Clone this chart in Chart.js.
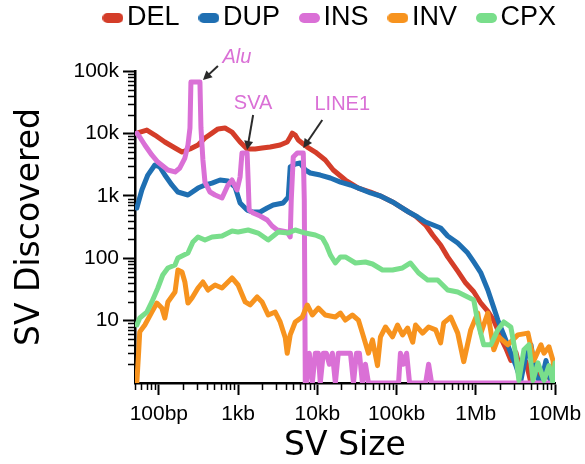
<!DOCTYPE html>
<html lang="en">
<head>
    <meta charset="UTF-8">
    <title>SV Size Distribution</title>
    <script src="https://cdn.jsdelivr.net/npm/chart.js"></script>
    <style>
        html, body { margin: 0; padding: 0; background: #fff; }
        #wrap { width: 585px; height: 464px; }
    </style>
</head>
<body>
    <div id="wrap"><canvas id="svChart" width="585" height="464"></canvas></div>

    <script>
        // series, in legend order
        const seriesNames = ['DEL', 'DUP', 'INS', 'INV', 'CPX'];
        const seriesColors = ['#d43d29', '#1f6fb2', '#da70d6', '#f7931e', '#79de8b'];

        const delSize = [52.7, 70.5, 89, 119, 160, 196, 247, 312, 382, 469, 558, 684, 839, 1060, 1300, 1640, 2010, 2540, 3400, 4170,
            4550, 4830, 5270, 5750, 6650, 7470, 9430, 12600, 15900, 22600, 33000, 46900, 62700, 89000, 130000, 174000, 233000, 286000, 360000, 442000,
            592000, 747000, 943000, 1160000, 1420000, 1690000, 1900000, 2070000, 2400000, 2770000, 3210000, 3710000, 4300000, 4970000, 5750000, 6650000, 7690000, 8900000, 10000000];
        const delCount = [10100, 11300, 9420, 7280, 5830, 5030, 5620, 6510, 8440, 10100, 11800, 12200, 10500, 7280, 5620, 5620, 5830, 6050, 6510, 7280,
            8750, 10100, 9420, 7830, 6760, 6050, 5030, 3750, 2590, 1790, 1330, 1150, 993, 796, 592, 474, 340, 235, 163, 105,
            62, 40, 29, 19, 14, 10, 7.1, 5.3, 3.6, 2.3, 3.1, 1.5, 2.2, 1, 1.7, 1, 1.5, 1.1, 1];

        const dupSize = [52.7, 61, 72.6, 89, 103, 119, 146, 174, 233, 312, 382, 469, 592, 746, 916, 1060, 1300, 1550, 1900, 2330,
            2770, 3710, 4300, 4550, 5270, 6090, 7050, 8150, 10900, 14600, 19600, 26200, 35000, 46900, 62700, 89000, 112000, 142000, 185000, 233000,
            312000, 360000, 442000, 592000, 792000, 943000, 1160000, 1420000, 1690000, 1900000, 2260000, 2770000, 3210000, 3710000, 4300000, 4970000, 5750000, 6650000, 7690000, 8900000, 10000000];
        const dupCount = [637, 1240, 2150, 3120, 2900, 2150, 1490, 1150, 1030, 1330, 1490, 1600, 1790, 1730, 1380, 767, 592, 550, 550, 637,
            712, 767, 957, 2900, 3230, 3360, 2590, 2320, 2150, 1930, 1660, 1490, 1290, 1110, 993, 796, 662, 550, 457, 380,
            328, 305, 227, 175, 121, 87, 58, 31, 16, 10.2, 5.9, 3.0, 1.9, 1.1, 2.8, 4.1, 1.3, 1, 2.3, 1, 1];

        const insSize = [52.7, 57.4, 66.5, 81.5, 97.1, 130, 160, 184, 213, 233, 247, 254, 330, 340, 360, 382, 442, 512, 627, 746,
            839, 916, 971, 1060, 1120, 1300, 1340, 1380, 1550, 1900, 2330, 2690, 3120, 3610, 4170, 4550, 4690, 4970, 5580, 6650,
            6850, 7050, 7260, 7920, 8640, 9430, 10300, 10900, 11900, 13000, 14200, 15500, 16900, 18400, 20100, 22000, 24000, 26200, 28600, 31200,
            34000, 37100, 40500, 44200, 106000, 112000, 123000, 134000, 146000, 233000, 254000, 277000, 10000000];
        const insCount = [10100, 8750, 6510, 4510, 3480, 2590, 2410, 2790, 4030, 6510, 12200, 66700, 66700, 12200, 3750, 1660, 1150, 1030, 922, 1490,
            1790, 1430, 1240, 2000, 4850, 4850, 1790, 592, 530, 474, 409, 328, 283, 273, 263, 219, 857, 4190, 4850, 4850,
            857, 1, 1, 3, 1, 3, 3, 1, 3, 3, 2, 3, 1, 3, 3, 3, 3, 3, 1, 3,
            3, 1, 2, 1, 1, 3, 2, 3, 1, 1, 2, 1, 1];

        const invSize = [52.7, 55.8, 57.4, 66.5, 81.5, 94.4, 109, 119, 130, 160, 174, 196, 213, 233, 262, 312, 360, 417, 512, 627,
            839, 1000, 1230, 1420, 1740, 2010, 2400, 2940, 3400, 3940, 4170, 4550, 5270, 6460, 7470, 8640, 10300, 12600, 16900, 19600,
            22600, 27700, 33000, 37100, 44200, 49700, 57500, 62700, 72600, 89000, 103000, 119000, 138000, 160000, 174000, 213000, 254000, 312000, 360000, 394000,
            482000, 592000, 705000, 864000, 1060000, 1160000, 1420000, 1690000, 1950000, 2540000, 3400000, 4550000, 5420000, 6650000, 7260000, 8390000, 9430000, 10000000];
        const invCount = [1, 3.4, 6.6, 8.5, 13.7, 19.1, 15.9, 11, 19.9, 28.7, 64.7, 60.1, 41.6, 19.1, 23, 33.3, 41.6, 30.9, 37.2, 33.3,
            48.2, 37.2, 19.9, 17.8, 23.9, 19.9, 12.3, 13.7, 9.5, 5.3, 3.0, 5.9, 9.5, 11.4, 17.8, 12.3, 15.9, 12.3, 11.4, 13.2,
            10.2, 12.3, 10.2, 6.3, 3.0, 4.9, 1.9, 5.5, 7.9, 5.5, 8.5, 5.9, 7.6, 4.5, 8.5, 6.3, 7.9, 7.1, 4.4, 9.2,
            11.4, 6.3, 2.2, 7.1, 13.2, 6.3, 13.2, 3.4, 5.5, 4.1, 5.9, 6.3, 2.3, 4.1, 3.0, 3.8, 2.3, 1.1];

        const cpxSize = [52.7, 57.4, 70.5, 81.5, 97.1, 112, 130, 160, 174, 233, 269, 312, 382, 469, 627, 839, 1000, 1340, 1790, 2400,
            3210, 4300, 5270, 7050, 9430, 11600, 13000, 14600, 16900, 19600, 22600, 30300, 40500, 49700, 66500, 89000, 119000, 150000, 190000, 247000,
            330000, 442000, 592000, 792000, 943000, 1060000, 1260000, 1550000, 1900000, 2260000, 2770000, 3210000, 3500000, 4050000, 4690000, 5270000, 6090000, 7260000, 8390000, 9430000, 10000000];
        const cpxCount = [8.5, 11, 13.7, 19.9, 33.3, 53.8, 69.7, 77.8, 101, 121, 182, 219, 196, 219, 227, 273, 263, 283, 253, 196,
            263, 253, 283, 253, 235, 211, 163, 113, 83.8, 105, 105, 83.8, 86.9, 80.7, 64.7, 64.7, 69.7, 83.8, 57.9, 44.8,
            44.8, 30.9, 28.7, 23.9, 21.4, 9.5, 4.1, 4.1, 7.1, 9.5, 7.9, 2.8, 1.1, 3.4, 4.1, 1.1, 2.1, 1.1, 1.9, 1, 2.1];

        const seriesSizes = [delSize, dupSize, insSize, invSize, cpxSize];
        const seriesCounts = [delCount, dupCount, insCount, invCount, cpxCount];

        // axes
        const xTickValues = [100, 1e3, 1e4, 1e5, 1e6, 1e7];
        const xTickLabels = ['100bp', '1kb', '10kb', '100kb', '1Mb', '10Mb'];
        const yTickValues = [10, 100, 1e3, 1e4, 1e5];
        const yTickLabels = ['10', '100', '1k', '10k', '100k'];

        // INS peaks that get an arrow: [label, size, count]
        const calloutLabels = ['Alu', 'SVA', 'LINE1'];
        const calloutSizes = [360, 1300, 6650];
        const calloutCounts = [71800, 5420, 5830];

        // pixel offsets of arrow tail and label from the peak
        const calloutLayout = {
            Alu:   { tail: [15, -14], text: [34, -23], italic: true },
            SVA:   { tail: [6, -35],  text: [6, -47],  italic: false },
            LINE1: { tail: [19, -28], text: [39, -44], italic: false }
        };

        Chart.defaults.font.family = "'Liberation Sans', Arial, sans-serif";
        Chart.defaults.color = '#000';

        function makePill(color) {
            const c = document.createElement('canvas');
            c.width = 21;
            c.height = 10;
            const g = c.getContext('2d');
            g.fillStyle = color;
            g.beginPath();
            g.arc(5, 5, 5, Math.PI / 2, Math.PI * 1.5);
            g.arc(16, 5, 5, Math.PI * 1.5, Math.PI / 2);
            g.closePath();
            g.fill();
            return c;
        }

        const minorTicks = {
            id: 'minorTicks',
            afterDraw(chart) {
                const { ctx, scales: { x, y } } = chart;
                ctx.save();
                ctx.strokeStyle = '#000';
                ctx.lineWidth = 1.5;
                ctx.beginPath();
                for (let e = 0; e <= 7; e++) {
                    for (let m = 2; m <= 9; m++) {
                        const v = m * Math.pow(10, e);
                        if (v >= x.min && v <= x.max) {
                            const px = Math.round(x.getPixelForValue(v)) + 0.5;
                            ctx.moveTo(px, x.top);
                            ctx.lineTo(px, x.top + 7);
                        }
                        if (v >= y.min && v <= y.max) {
                            const py = Math.round(y.getPixelForValue(v)) + 0.5;
                            ctx.moveTo(y.right, py);
                            ctx.lineTo(y.right - 7, py);
                        }
                    }
                }
                ctx.stroke();
                ctx.restore();
            }
        };

        const callouts = {
            id: 'callouts',
            afterDatasetsDraw(chart) {
                const { ctx, scales: { x, y } } = chart;
                ctx.save();
                calloutLabels.forEach((name, i) => {
                    const lay = calloutLayout[name];
                    const tx = x.getPixelForValue(calloutSizes[i]);
                    const ty = y.getPixelForValue(calloutCounts[i]);
                    const sx = tx + lay.tail[0];
                    const sy = ty + lay.tail[1];
                    const ang = Math.atan2(ty - sy, tx - sx);

                    ctx.strokeStyle = '#2b2b2b';
                    ctx.fillStyle = '#2b2b2b';
                    ctx.lineWidth = 2;
                    ctx.beginPath();
                    ctx.moveTo(sx, sy);
                    ctx.lineTo(tx - Math.cos(ang) * 6, ty - Math.sin(ang) * 6);
                    ctx.stroke();

                    ctx.beginPath();
                    ctx.moveTo(tx, ty);
                    ctx.lineTo(tx - Math.cos(ang) * 9 + Math.sin(ang) * 4.5, ty - Math.sin(ang) * 9 - Math.cos(ang) * 4.5);
                    ctx.lineTo(tx - Math.cos(ang) * 9 - Math.sin(ang) * 4.5, ty - Math.sin(ang) * 9 + Math.cos(ang) * 4.5);
                    ctx.closePath();
                    ctx.fill();

                    ctx.fillStyle = seriesColors[2];
                    ctx.font = (lay.italic ? 'italic ' : '') + "20px 'Liberation Sans', Arial, sans-serif";
                    ctx.textAlign = 'center';
                    ctx.textBaseline = 'middle';
                    ctx.fillText(name, tx + lay.text[0], ty + lay.text[1]);
                });
                ctx.restore();
            }
        };

        new Chart(document.getElementById('svChart'), {
            type: 'line',
            data: {
                datasets: seriesNames.map((name, i) => ({
                    label: name,
                    data: seriesSizes[i].map((s, j) => ({ x: s, y: seriesCounts[i][j] })),
                    borderColor: seriesColors[i],
                    backgroundColor: seriesColors[i],
                    borderWidth: 5,
                    pointRadius: 0,
                    tension: 0,
                    fill: false,
                    borderJoinStyle: 'round',
                    borderCapStyle: 'round',
                    order: seriesNames.length - 1 - i
                }))
            },
            options: {
                responsive: false,
                animation: false,
                devicePixelRatio: 1,
                layout: { padding: { top: -24.5, left: 0, right: 0, bottom: 0 } },
                plugins: {
                    legend: {
                        position: 'top',
                        align: 'end',
                        labels: {
                            usePointStyle: true,
                            boxWidth: 1,
                            padding: 29,
                            color: '#000',
                            font: { size: 27 },
                            generateLabels: (chart) => chart.data.datasets.map((ds, i) => ({
                                text: ds.label,
                                fillStyle: ds.borderColor,
                                strokeStyle: ds.borderColor,
                                lineWidth: 0,
                                pointStyle: makePill(ds.borderColor),
                                hidden: false,
                                datasetIndex: i,
                                fontColor: '#000'
                            }))
                        }
                    },
                    // empty title used as the gap between legend and plot
                    title: { display: true, text: '', weight: 900, font: { size: 10 }, padding: { top: 0, bottom: 17.5 } },
                    tooltip: { enabled: false }
                },
                scales: {
                    x: {
                        type: 'logarithmic',
                        min: 50,
                        max: 1e7,
                        afterBuildTicks: (scale) => { scale.ticks = xTickValues.map(v => ({ value: v })); },
                        afterFit: (scale) => { scale.height = 81; scale.paddingLeft = 0; scale.paddingRight = 30; },
                        border: { color: '#000', width: 2.5 },
                        grid: { drawOnChartArea: false, tickLength: 12, tickColor: '#000', tickWidth: 2 },
                        ticks: {
                            autoSkip: false,
                            maxRotation: 0,
                            padding: 7,
                            color: '#000',
                            font: { size: 21 },
                            callback: (value) => {
                                const k = xTickValues.indexOf(value);
                                return k < 0 ? '' : xTickLabels[k];
                            }
                        },
                        title: {
                            display: true,
                            text: 'SV Size',
                            color: '#000',
                            font: { family: "'DejaVu Sans', sans-serif", size: 33, lineHeight: 1 },
                            padding: { top: 0, bottom: 1.5 }
                        }
                    },
                    y: {
                        type: 'logarithmic',
                        min: 1,
                        max: 1e5,
                        afterBuildTicks: (scale) => { scale.ticks = yTickValues.map(v => ({ value: v })); },
                        afterFit: (scale) => { scale.width = 135; scale.paddingTop = 0; scale.paddingBottom = 0; },
                        border: { color: '#000', width: 2.5 },
                        grid: { drawOnChartArea: false, tickLength: 12, tickColor: '#000', tickWidth: 2 },
                        ticks: {
                            autoSkip: false,
                            padding: 4,
                            color: '#000',
                            font: { size: 21 },
                            callback: (value) => {
                                const k = yTickValues.indexOf(value);
                                return k < 0 ? '' : yTickLabels[k];
                            }
                        },
                        title: {
                            display: true,
                            text: 'SV Discovered',
                            color: '#000',
                            font: { family: "'DejaVu Sans', sans-serif", size: 33, lineHeight: 1 },
                            padding: { top: 13.5, bottom: 0 }
                        }
                    }
                }
            },
            plugins: [minorTicks, callouts]
        });
    </script>
</body>
</html>
